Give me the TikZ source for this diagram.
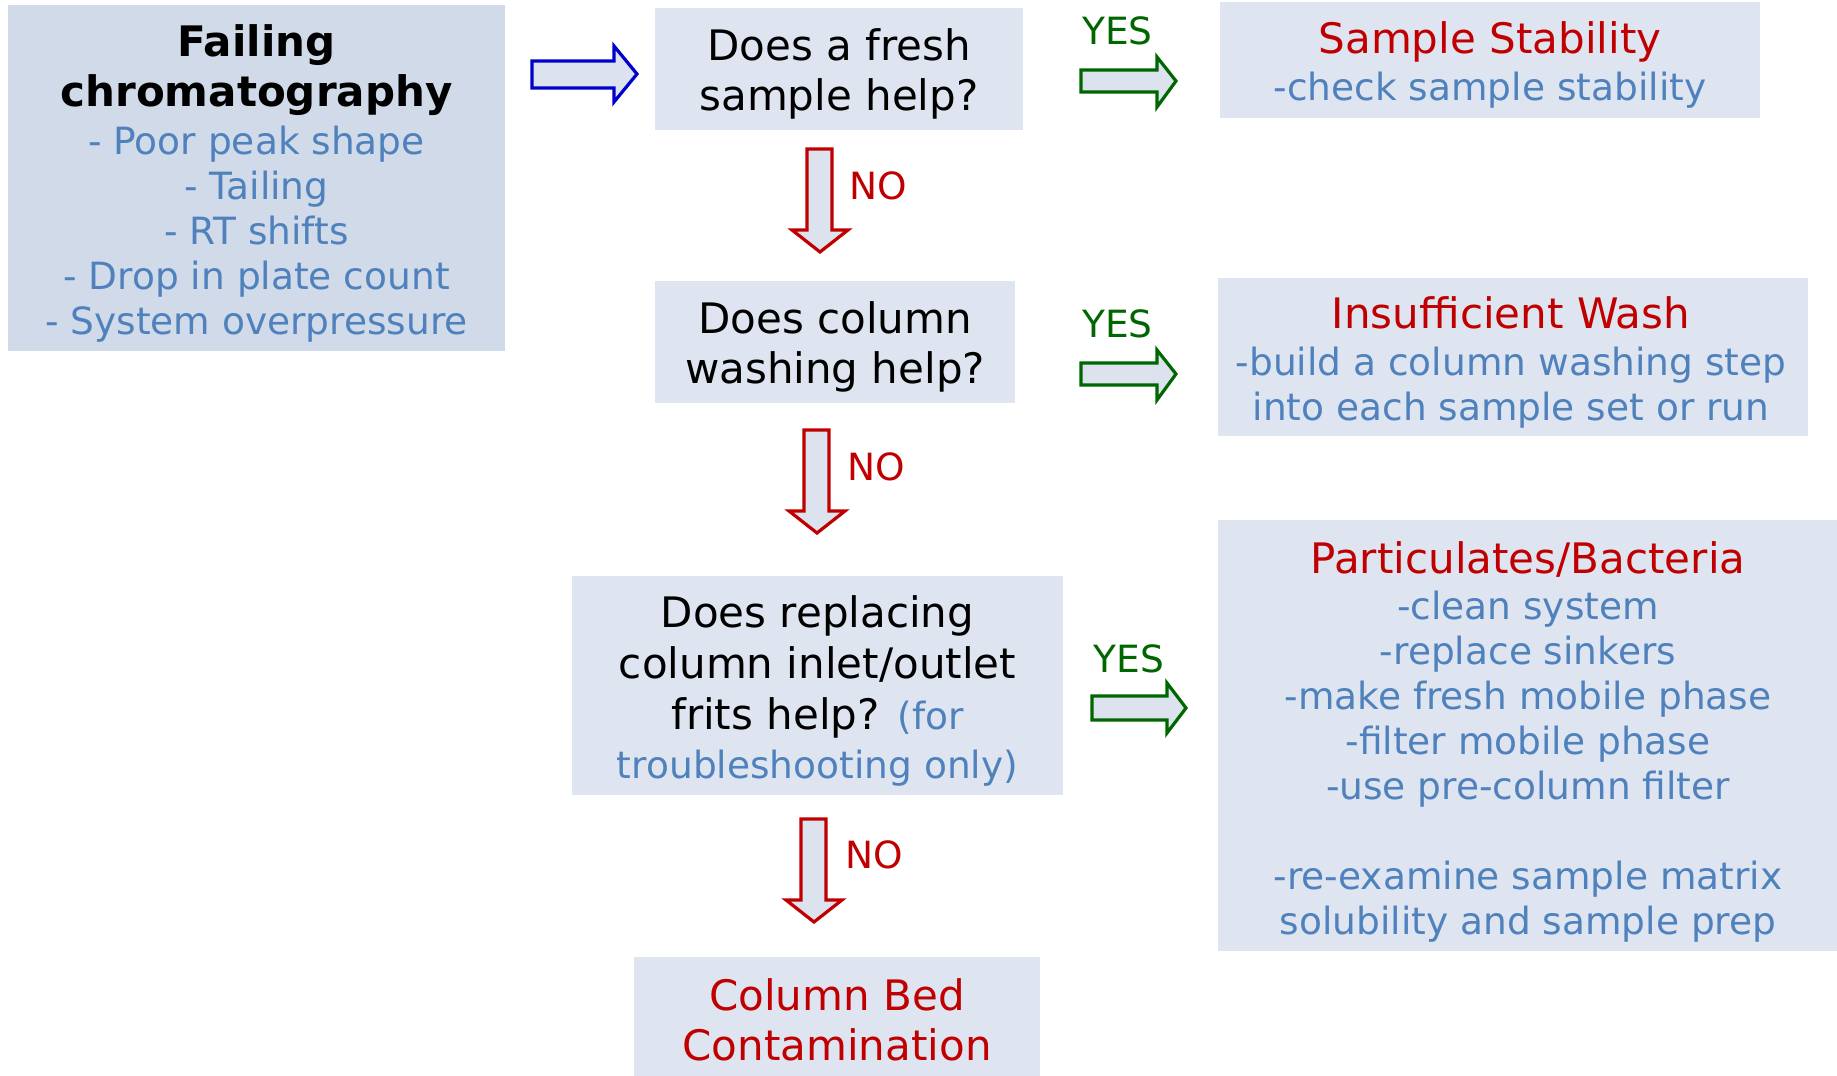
\documentclass[tikz,border=0pt]{standalone}
\usepackage{fontspec}
\setmainfont{DejaVu Sans}
\definecolor{boxfill}{HTML}{DEE5F0}
\definecolor{boxfilldark}{HTML}{D0DAE8}
\definecolor{txtblue}{HTML}{4F81BD}
\definecolor{txtred}{HTML}{C00000}
\definecolor{txtgreen}{HTML}{006600}
\definecolor{arrowblue}{HTML}{0000CC}
\definecolor{arrowfill}{HTML}{DCE3EF}
\begin{document}
\begin{tikzpicture}[x=0.5pt,y=-0.5pt,
  box/.style={rectangle, fill=boxfill, draw=none, inner sep=0pt, outer sep=0pt},
  txt/.style={align=center, inner sep=0pt, outer sep=0pt},
  bluetxt/.style={txt, text=txtblue, font=\fontsize{18.75}{22.5}\selectfont},
  qtxt/.style={txt, text=black, font=\fontsize{21}{25}\selectfont},
  lbl/.style={inner sep=0pt, font=\fontsize{18.75}{22.5}\selectfont},
  blockarrow/.style={fill=arrowfill, line width=1.6pt, line join=miter}
]
\useasboundingbox (0,0) rectangle (1837,1076);

% boxes
\node[box, fill=boxfilldark, minimum width=248.5pt, minimum height=173pt] (b1) at (256.5,178) {};
\node[box, minimum width=184pt, minimum height=61pt] (b2) at (839,69) {};
\node[box, minimum width=180pt, minimum height=61pt] (b3) at (835,342) {};
\node[box, minimum width=245.5pt, minimum height=109.5pt] (b4) at (817.5,685.5) {};
\node[box, minimum width=203pt, minimum height=63pt] (b5) at (837,1020) {};
\node[box, minimum width=270pt, minimum height=58pt] (r1) at (1490,60) {};
\node[box, minimum width=295pt, minimum height=79pt] (r2) at (1513,357) {};
\node[box, minimum width=311pt, minimum height=215.5pt] (r3) at (1529,735.5) {};

% texts
\node[bluetxt] (t1) at (256.5,183) {{\color{black}\bfseries\fontsize{21}{25}\selectfont Failing}\\[2.5pt]{\color{black}\bfseries\fontsize{21}{25}\selectfont chromatography}\\[1.5pt]- Poor peak shape\\- Tailing\\- RT shifts\\- Drop in plate count\\- System overpressure};
\node[qtxt] (t2) at (839,73.5) {Does a fresh\\sample help?};
\node[qtxt] (t3) at (835,346.5) {Does column\\washing help?};
\node[qtxt, font=\fontsize{21}{25.5}\selectfont] (t4) at (817.5,691) {Does replacing\\column inlet/outlet\\frits help? {\color{txtblue}\fontsize{18.75}{22.5}\selectfont(for}\\[-1pt]{\color{txtblue}\fontsize{18.75}{22.5}\selectfont troubleshooting only)}};
\node[qtxt, text=txtred] (t5) at (837,1020) {Column Bed\\Contamination};
\node[bluetxt] (s1) at (1490,65) {{\color{txtred}\fontsize{21}{25}\selectfont Sample Stability}\\[0.8pt]-check sample stability};
\node[bluetxt] (s2) at (1511,362.5) {{\color{txtred}\fontsize{21}{25}\selectfont Insufficient Wash}\\[1pt]-build a column washing step\\into each sample set or run};
\node[bluetxt] (s3) at (1528,742) {{\color{txtred}\fontsize{21}{25}\selectfont Particulates/Bacteria}\\[0.5pt]-clean system\\-replace sinkers\\-make fresh mobile phase\\-filter mobile phase\\-use pre-column filter\\[22.5pt]-re-examine sample matrix\\solubility and sample prep};

% block arrows
\draw[blockarrow, draw=arrowblue] (532,61)--(614,61)--(614,46)--(637,74)--(614,102)--(614,88)--(532,88)--cycle;
\draw[blockarrow, draw=txtred] (807,149)--(832,149)--(832,230)--(848,230)--(820,252)--(792,230)--(807,230)--cycle;
\draw[blockarrow, draw=txtred] (804,430)--(829,430)--(829,511)--(845,511)--(817,533)--(789,511)--(804,511)--cycle;
\draw[blockarrow, draw=txtred] (801,819)--(826,819)--(826,900)--(842,900)--(814,922)--(786,900)--(801,900)--cycle;
\draw[blockarrow, draw=txtgreen] (1081,70)--(1157,70)--(1157,57)--(1176,81)--(1157,107)--(1157,92)--(1081,92)--cycle;
\draw[blockarrow, draw=txtgreen] (1081,363)--(1157,363)--(1157,350)--(1176,374)--(1157,400)--(1157,385)--(1081,385)--cycle;
\draw[blockarrow, draw=txtgreen] (1092,696)--(1167,696)--(1167,683)--(1186,708)--(1167,733)--(1167,720)--(1092,720)--cycle;

% labels
\node[lbl, text=txtred] (n1) at (878,186) {NO};
\node[lbl, text=txtred] (n2) at (876,467) {NO};
\node[lbl, text=txtred] (n3) at (874,855) {NO};
\node[lbl, text=txtgreen] (y1) at (1117.5,30.5) {YES};
\node[lbl, text=txtgreen] (y2) at (1117.5,323.5) {YES};
\node[lbl, text=txtgreen] (y3) at (1129,659) {YES};
\end{tikzpicture}
\end{document}
